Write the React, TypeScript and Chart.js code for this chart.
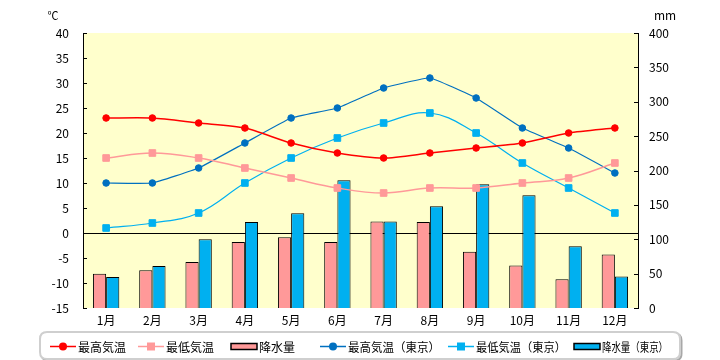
import React, { useEffect, useRef } from "react";
import { Chart, registerables } from "chart.js";

Chart.register(...registerables);

const months = ["1月", "2月", "3月", "4月", "5月", "6月", "7月", "8月", "9月", "10月", "11月", "12月"];
const maxTemp = [23, 23, 22, 21, 18, 16, 15, 16, 17, 18, 20, 21];
const minTemp = [15, 16, 15, 13, 11, 9, 8, 9, 9, 10, 11, 14];
const precip = [50, 55, 67, 96, 103, 96, 126, 125, 82, 62, 42, 78];
const maxTempTokyo = [10, 10, 13, 18, 23, 25, 29, 31, 27, 21, 17, 12];
const minTempTokyo = [1, 2, 4, 10, 15, 19, 22, 24, 20, 14, 9, 4];
const precipTokyo = [45, 61, 100, 125, 138, 186, 126, 148, 180, 164, 90, 46];

const tempTicks = { min: -15, max: 40, step: 5 };
const rainTicks = { min: 0, max: 400, step: 50 };

const FONT = "'Noto Sans CJK JP', 'Noto Sans', sans-serif";

const bgPlugin = {
  id: "plotBg",
  beforeDraw(chart: any) {
    const { ctx, chartArea: a } = chart;
    ctx.save();
    ctx.fillStyle = "#FFFFCC";
    ctx.fillRect(a.left, a.top, a.right - a.left, a.bottom - a.top);
    ctx.restore();
  },
};

const decoPlugin = {
  id: "deco",
  afterDraw(chart: any) {
    const { ctx, chartArea: a } = chart;
    ctx.save();
    // inner tick marks
    ctx.strokeStyle = "#000";
    ctx.lineWidth = 1;
    const ys = chart.scales.y;
    ys.ticks.forEach((t: any) => {
      const py = Math.round(ys.getPixelForValue(t.value)) + 0.5;
      ctx.beginPath();
      ctx.moveTo(a.left, py);
      ctx.lineTo(a.left + 4, py);
      ctx.stroke();
    });
    const y1 = chart.scales.y1;
    y1.ticks.forEach((t: any) => {
      const py = Math.round(y1.getPixelForValue(t.value)) + 0.5;
      ctx.beginPath();
      ctx.moveTo(a.right - 4, py);
      ctx.lineTo(a.right, py);
      ctx.stroke();
    });
    // unit labels
    ctx.fillStyle = "#000";
    ctx.textAlign = "center";
    ctx.textBaseline = "middle";
    ctx.font = "11px " + FONT;
    ctx.fillText("℃", a.left - 30, a.top - 17);
    ctx.font = "12px " + FONT;
    ctx.fillText("mm", a.right + 27, a.top - 18);

    // legend box
    const bl = 40, br = 680, bt = 332, bb = 359, r = 7;
    const rr = (x0: number, y0: number, x1: number, y1b: number) => {
      ctx.beginPath();
      ctx.moveTo(x0 + r, y0);
      ctx.lineTo(x1 - r, y0);
      ctx.quadraticCurveTo(x1, y0, x1, y0 + r);
      ctx.lineTo(x1, y1b - r);
      ctx.quadraticCurveTo(x1, y1b, x1 - r, y1b);
      ctx.lineTo(x0 + r, y1b);
      ctx.quadraticCurveTo(x0, y1b, x0, y1b - r);
      ctx.lineTo(x0, y0 + r);
      ctx.quadraticCurveTo(x0, y0, x0 + r, y0);
      ctx.closePath();
    };
    ctx.strokeStyle = "#a8a8a8";
    ctx.lineWidth = 2;
    rr(bl + 1.5, bt + 1.5, br + 1.5, bb + 1.5);
    ctx.stroke();
    ctx.fillStyle = "#fff";
    rr(bl, bt, br, bb);
    ctx.fill();
    ctx.strokeStyle = "#cfcfcf";
    ctx.lineWidth = 2;
    ctx.stroke();

    const starts = [50, 138, 231, 320, 448, 574];
    const cy = 346.5;
    const sw = 26;
    ctx.font = "12px " + FONT;
    ctx.textAlign = "left";
    ctx.textBaseline = "middle";
    chart.data.datasets.forEach((ds: any, i: number) => {
      const x = starts[i];
      if (ds.type === "line") {
        ctx.strokeStyle = ds.borderColor;
        ctx.lineWidth = 1.5;
        ctx.beginPath();
        ctx.moveTo(x, cy);
        ctx.lineTo(x + sw, cy);
        ctx.stroke();
        ctx.fillStyle = ds.borderColor;
        if (ds.pointStyle === "rect") {
          ctx.fillRect(x + sw / 2 - 4, cy - 4, 8, 8);
        } else {
          ctx.beginPath();
          ctx.arc(x + sw / 2, cy, 4, 0, Math.PI * 2);
          ctx.fill();
        }
      } else {
        ctx.fillStyle = ds.backgroundColor;
        ctx.fillRect(x, cy - 3, sw, 6);
        ctx.strokeStyle = "#000";
        ctx.lineWidth = 1.5;
        ctx.strokeRect(x, cy - 3, sw, 6);
      }
      ctx.fillStyle = "#000";
      const next = i < starts.length - 1 ? starts[i + 1] : br - 4;
      ctx.fillText(ds.label, x + sw + 2, cy + 0.5, next - (x + sw + 2) - 8);
    });
    ctx.restore();
  },
};

export default function App() {
  const ref = useRef<HTMLCanvasElement | null>(null);
  useEffect(() => {
    if (!ref.current) return;
    const font = { family: FONT, size: 12 };
    const chart = new Chart(ref.current, {
      type: "bar",
      data: {
        labels: months,
        datasets: [
          {
            type: "line", label: "最高気温", data: maxTemp, yAxisID: "y",
            borderColor: "#FF0000", backgroundColor: "#FF0000", pointStyle: "circle",
            pointRadius: 3.3, pointBorderWidth: 1, borderWidth: 1.5, tension: 0.25, order: 0,
          },
          {
            type: "line", label: "最低気温", data: minTemp, yAxisID: "y",
            borderColor: "#FF9999", backgroundColor: "#FF9999", pointStyle: "rect",
            pointRadius: 4.7, pointBorderWidth: 1, borderWidth: 1.5, tension: 0.4, order: 0,
          },
          {
            type: "bar", label: "降水量", data: precip, yAxisID: "y1",
            backgroundColor: "#FF9999", borderColor: "#000", borderWidth: 1, order: 1,
            barPercentage: 1, categoryPercentage: 0.57,
          },
          {
            type: "line", label: "最高気温（東京）", data: maxTempTokyo, yAxisID: "y",
            borderColor: "#0070C0", backgroundColor: "#0070C0", pointStyle: "circle",
            pointRadius: 3.3, pointBorderWidth: 1, borderWidth: 1.2, tension: 0.1, order: 0,
          },
          {
            type: "line", label: "最低気温（東京）", data: minTempTokyo, yAxisID: "y",
            borderColor: "#00B0F0", backgroundColor: "#00B0F0", pointStyle: "rect",
            pointRadius: 4.7, pointBorderWidth: 1, borderWidth: 1.2, tension: 0.4, order: 0,
          },
          {
            type: "bar", label: "降水量（東京）", data: precipTokyo, yAxisID: "y1",
            backgroundColor: "#00B0F0", borderColor: "#000", borderWidth: 1, order: 1,
            barPercentage: 1, categoryPercentage: 0.57,
          },
        ] as any,
      },
      options: {
        responsive: false,
        animation: false,
        layout: { padding: { top: 33, bottom: 30, left: 0, right: 0 } },
        plugins: { legend: { display: false }, tooltip: { enabled: false } },
        scales: {
          x: {
            offset: true,
            grid: { display: false, drawTicks: false },
            border: { display: false },
            ticks: { font, color: "#000", padding: 5, maxRotation: 0 },
            afterFit: (s: any) => { s.height = 22; },
          },
          y: {
            position: "left",
            min: tempTicks.min,
            max: tempTicks.max,
            ticks: { stepSize: tempTicks.step, font, color: "#000", padding: 14 },
            grid: {
              drawTicks: false,
              color: (c: any) => (c.tick && c.tick.value === 0 ? "#000" : "rgba(0,0,0,0)"),
              lineWidth: 1,
            },
            border: { display: true, color: "#000", width: 1 },
            afterFit: (s: any) => { s.width = 83; },
          },
          y1: {
            position: "right",
            min: rainTicks.min,
            max: rainTicks.max,
            ticks: { stepSize: rainTicks.step, font, color: "#000", padding: 11 },
            grid: { display: false, drawTicks: false },
            border: { display: true, color: "#000", width: 1 },
            afterFit: (s: any) => { s.width = 82; },
          },
        } as any,
      },
      plugins: [bgPlugin, decoPlugin],
    });
    return () => chart.destroy();
  }, []);
  return (
    <div style={{ position: "fixed", left: 0, top: 0, width: 720, height: 360, background: "#fff" }}>
      <canvas ref={ref} width={720} height={360} />
    </div>
  );
}
